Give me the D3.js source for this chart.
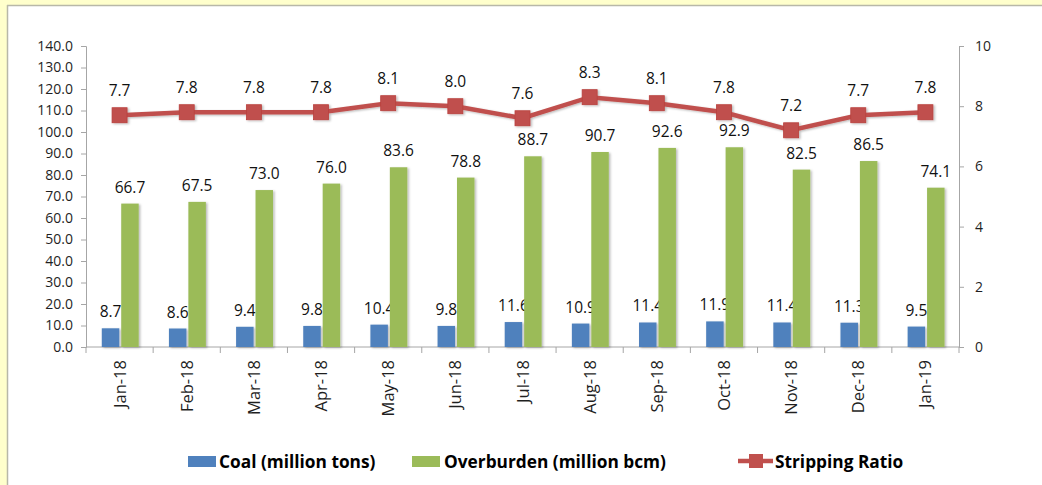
<!doctype html>
<html lang="en">
<head>
  <meta charset="utf-8">
  <title>Coal, Overburden and Stripping Ratio</title>
  <style>
    body { margin: 0; background: #ffffcc; }
    svg { display: block; }
    .tick-l { font: 14px "Open Sans", sans-serif; fill: #1f1f1f; }
    .lbl { font: 15.5px "Open Sans", sans-serif; fill: #111; text-anchor: middle; }
    .leg { font: bold 17.3px "Open Sans", sans-serif; fill: #000; }
  </style>
</head>
<body>
<svg width="1042" height="485"></svg>
<script src="https://d3js.org/d3.v7.min.js"></script>
<script>
  // data
  var months = ["Jan-18", "Feb-18", "Mar-18", "Apr-18", "May-18", "Jun-18", "Jul-18",
                "Aug-18", "Sep-18", "Oct-18", "Nov-18", "Dec-18", "Jan-19"];
  var coal = [8.7, 8.6, 9.4, 9.8, 10.4, 9.8, 11.6, 10.9, 11.4, 11.9, 11.4, 11.3, 9.5];
  var overburden = [66.7, 67.5, 73.0, 76.0, 83.6, 78.8, 88.7, 90.7, 92.6, 92.9, 82.5, 86.5, 74.1];
  var ratio = [7.7, 7.8, 7.8, 7.8, 8.1, 8.0, 7.6, 8.3, 8.1, 7.8, 7.2, 7.7, 7.8];
  var leftTicks = d3.range(0, 141, 10);
  var rightTicks = [0, 2, 4, 6, 8, 10];

  var svg = d3.select("svg");
  var colCoal = "#4f81bd", colOb = "#9bbb59", colLine = "#c0504d", axisCol = "#a6a6a6";

  // frame
  svg.append("rect").attr("x", 0).attr("y", 0).attr("width", 1042).attr("height", 485).attr("fill", "#ffffcc");
  svg.append("rect").attr("x", 7).attr("y", 5).attr("width", 1035).attr("height", 480).attr("fill", "#fff");
  svg.append("line").attr("x1", 7).attr("x2", 1042).attr("y1", 5.5).attr("y2", 5.5).attr("stroke", "#b8b8a8").attr("stroke-width", 1.5);
  svg.append("line").attr("x1", 7.5).attr("x2", 7.5).attr("y1", 5).attr("y2", 485).attr("stroke", "#b8b8a8").attr("stroke-width", 1.5);

  var defs = svg.append("defs");
  var f = defs.append("filter").attr("id", "shadow").attr("x", "-30%").attr("y", "-10%").attr("width", "160%").attr("height", "130%");
  f.append("feDropShadow").attr("dx", 1.5).attr("dy", 1).attr("stdDeviation", 1.2)
    .attr("flood-color", "#000").attr("flood-opacity", 0.28);

  var pLeft = 86, pRight = 959, pTop = 46, pBottom = 347;

  var x = d3.scaleBand().domain(months).range([pLeft, pRight]);
  var bw = x.bandwidth();
  var x1 = d3.scaleBand().domain(["coal", "ob"]).range([bw * 0.235, bw * 0.785]).paddingInner(0.1);
  var y = d3.scaleLinear().domain([0, 140]).range([pBottom, pTop]);
  var y2 = d3.scaleLinear().domain([0, 10]).range([pBottom, pTop]);

  // axes
  var gl = svg.append("g").attr("transform", "translate(" + pLeft + ",0)")
    .call(d3.axisLeft(y).tickValues(leftTicks).tickFormat(d3.format(".1f")).tickSize(5).tickPadding(8));
  var gr = svg.append("g").attr("transform", "translate(" + pRight + ",0)")
    .call(d3.axisRight(y2).tickValues(rightTicks).tickSize(5).tickPadding(11));
  [gl, gr].forEach(function (g) {
    g.select(".domain").attr("stroke", axisCol);
    g.selectAll(".tick line").attr("stroke", axisCol);
    g.selectAll(".tick text").attr("class", "tick-l");
  });

  var gx = svg.append("g").attr("transform", "translate(0," + pBottom + ")");
  gx.append("line").attr("x1", pLeft).attr("x2", pRight).attr("stroke", axisCol);
  gx.selectAll(".tk").data(d3.range(months.length + 1)).enter().append("line")
    .attr("x1", function (i) { return pLeft + i * x.step(); })
    .attr("x2", function (i) { return pLeft + i * x.step(); })
    .attr("y1", 0).attr("y2", 6).attr("stroke", axisCol);
  gx.selectAll(".xl").data(months).enter().append("text")
    .attr("class", "tick-l")
    .style("font-size", "16.5px")
    .attr("text-anchor", "end")
    .attr("transform", function (d) { return "translate(" + (x(d) + bw / 2 + 6) + ",13) rotate(-90)"; })
    .text(function (d) { return d; });

  // bars
  var rows = months.map(function (m, i) { return { m: m, coal: coal[i], ob: overburden[i], r: ratio[i] }; });
  var barG = svg.append("g");
  [["coal", colCoal], ["ob", colOb]].forEach(function (s) {
    barG.selectAll(".b-" + s[0]).data(rows).enter().append("rect")
      .attr("x", function (d) { return x(d.m) + x1(s[0]); })
      .attr("width", x1.bandwidth())
      .attr("y", function (d) { return y(d[s[0]]); })
      .attr("height", function (d) { return pBottom - y(d[s[0]]); })
      .attr("fill", s[1])
      .attr("filter", "url(#shadow)");
    barG.selectAll(".l-" + s[0]).data(rows).enter().append("text")
      .attr("class", "lbl")
      .attr("x", function (d) { return x(d.m) + x1(s[0]) + x1.bandwidth() / 2; })
      .attr("y", function (d) { return y(d[s[0]]) - 11; })
      .text(function (d) { return d[s[0]].toFixed(1); });
  });

  // stripping ratio line
  var cx = function (d) { return x(d.m) + bw / 2; };
  var lineG = svg.append("g").attr("filter", "url(#shadow)");
  lineG.append("path").datum(rows)
    .attr("d", d3.line().x(cx).y(function (d) { return y2(d.r); }))
    .attr("fill", "none").attr("stroke", colLine).attr("stroke-width", 4.5);
  lineG.selectAll(".mk").data(rows).enter().append("rect")
    .attr("x", function (d) { return cx(d) - 7.5; })
    .attr("y", function (d) { return y2(d.r) - 7.5; })
    .attr("width", 15).attr("height", 15)
    .attr("fill", colLine).attr("stroke", "#b9403d").attr("stroke-width", 0.8);
  svg.selectAll(".rl").data(rows).enter().append("text")
    .attr("class", "lbl")
    .attr("x", cx)
    .attr("y", function (d) { return y2(d.r) - 19; })
    .text(function (d) { return d.r.toFixed(1); });

  // legend
  var lg = svg.append("g").attr("transform", "translate(0,462)");
  lg.append("rect").attr("x", 188).attr("y", -6).attr("width", 28).attr("height", 11).attr("fill", colCoal);
  lg.append("text").attr("class", "leg").attr("x", 219).attr("y", 6).text("Coal (million tons)");
  lg.append("rect").attr("x", 412).attr("y", -6).attr("width", 28).attr("height", 11).attr("fill", colOb);
  lg.append("text").attr("class", "leg").attr("x", 444).attr("y", 6).text("Overburden (million bcm)");
  lg.append("line").attr("x1", 738).attr("x2", 773).attr("y1", -1).attr("y2", -1).attr("stroke", colLine).attr("stroke-width", 4.5);
  lg.append("rect").attr("x", 749).attr("y", -8).attr("width", 14).attr("height", 14).attr("fill", colLine);
  lg.append("text").attr("class", "leg").attr("x", 775).attr("y", 6).text("Stripping Ratio");
</script>
</body>
</html>
